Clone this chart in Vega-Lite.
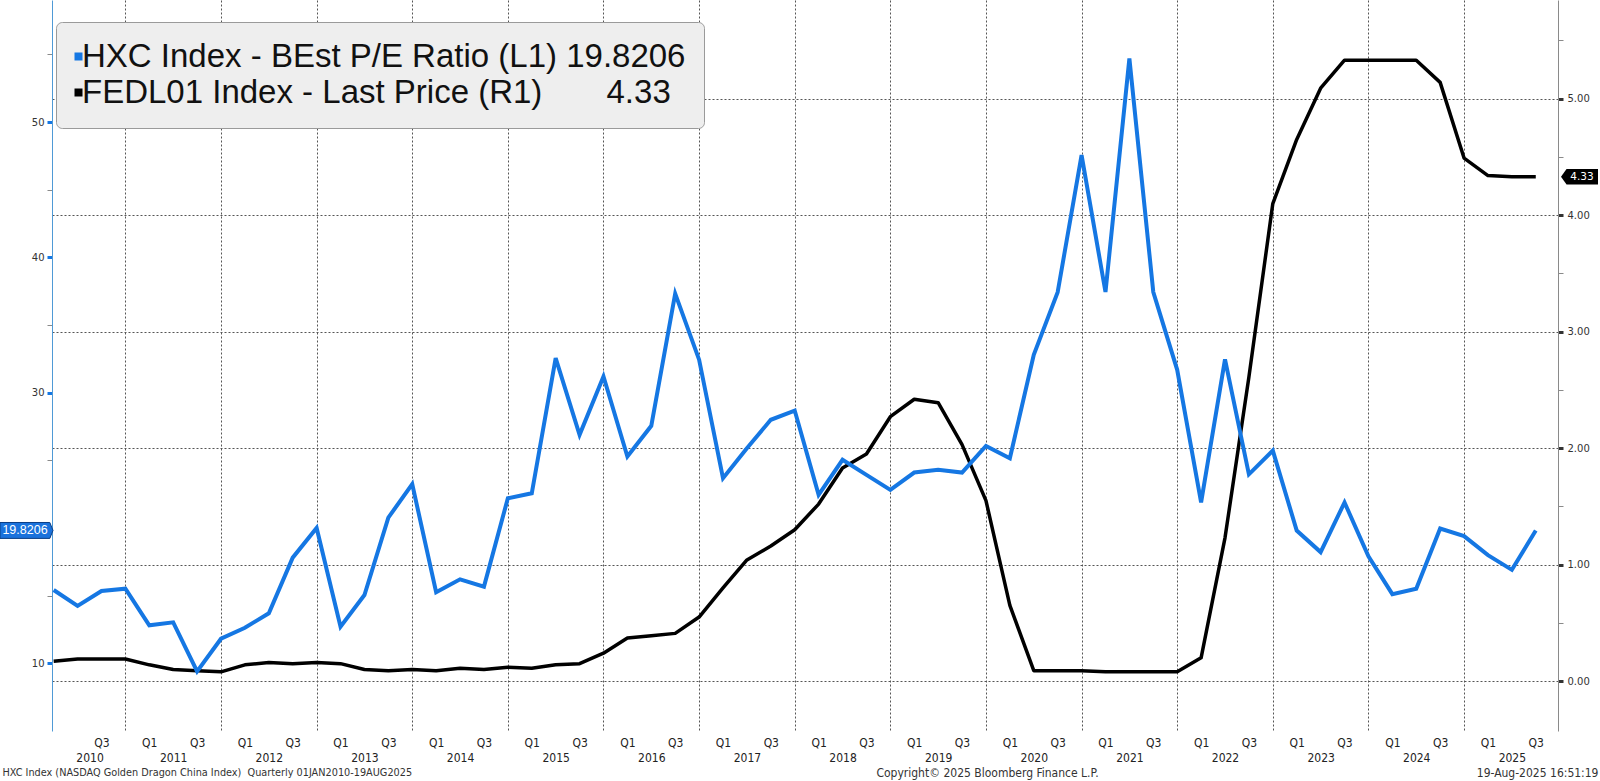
{
  "$schema": "https://vega.github.io/schema/vega-lite/v6.json",
  "width": 1506,
  "height": 731,
  "autosize": {"type": "none"},
  "padding": {"left": 52, "top": 0, "right": 42, "bottom": 50},
  "background": "white",
  "config": {
    "view": {"stroke": null},
    "font": "Liberation Sans",
    "axis": {"labelFont": "'Liberation Sans Narrow', 'DejaVu Sans Condensed', sans-serif", "titleFontWeight": "normal"}
  },
  "data": {
    "values": [
      {"i": 0, "quarter": "2010Q1", "pe": 15.42, "fed": 0.17},
      {"i": 1, "quarter": "2010Q2", "pe": 14.24, "fed": 0.19},
      {"i": 2, "quarter": "2010Q3", "pe": 15.35, "fed": 0.19},
      {"i": 3, "quarter": "2010Q4", "pe": 15.52, "fed": 0.19},
      {"i": 4, "quarter": "2011Q1", "pe": 12.81, "fed": 0.14},
      {"i": 5, "quarter": "2011Q2", "pe": 13.03, "fed": 0.10},
      {"i": 6, "quarter": "2011Q3", "pe": 9.41, "fed": 0.09},
      {"i": 7, "quarter": "2011Q4", "pe": 11.82, "fed": 0.08},
      {"i": 8, "quarter": "2012Q1", "pe": 12.63, "fed": 0.14},
      {"i": 9, "quarter": "2012Q2", "pe": 13.70, "fed": 0.16},
      {"i": 10, "quarter": "2012Q3", "pe": 17.81, "fed": 0.15},
      {"i": 11, "quarter": "2012Q4", "pe": 20.00, "fed": 0.16},
      {"i": 12, "quarter": "2013Q1", "pe": 12.71, "fed": 0.15},
      {"i": 13, "quarter": "2013Q2", "pe": 15.05, "fed": 0.10},
      {"i": 14, "quarter": "2013Q3", "pe": 20.77, "fed": 0.09},
      {"i": 15, "quarter": "2013Q4", "pe": 23.24, "fed": 0.10},
      {"i": 16, "quarter": "2014Q1", "pe": 15.25, "fed": 0.09},
      {"i": 17, "quarter": "2014Q2", "pe": 16.21, "fed": 0.11},
      {"i": 18, "quarter": "2014Q3", "pe": 15.67, "fed": 0.10},
      {"i": 19, "quarter": "2014Q4", "pe": 22.20, "fed": 0.12},
      {"i": 20, "quarter": "2015Q1", "pe": 22.57, "fed": 0.11},
      {"i": 21, "quarter": "2015Q2", "pe": 32.56, "fed": 0.14},
      {"i": 22, "quarter": "2015Q3", "pe": 26.89, "fed": 0.15},
      {"i": 23, "quarter": "2015Q4", "pe": 31.20, "fed": 0.24},
      {"i": 24, "quarter": "2016Q1", "pe": 25.28, "fed": 0.37},
      {"i": 25, "quarter": "2016Q2", "pe": 27.55, "fed": 0.39},
      {"i": 26, "quarter": "2016Q3", "pe": 37.32, "fed": 0.41},
      {"i": 27, "quarter": "2016Q4", "pe": 32.44, "fed": 0.55},
      {"i": 28, "quarter": "2017Q1", "pe": 23.68, "fed": 0.80},
      {"i": 29, "quarter": "2017Q2", "pe": 25.90, "fed": 1.04},
      {"i": 30, "quarter": "2017Q3", "pe": 28.00, "fed": 1.16},
      {"i": 31, "quarter": "2017Q4", "pe": 28.68, "fed": 1.30},
      {"i": 32, "quarter": "2018Q1", "pe": 22.45, "fed": 1.52},
      {"i": 33, "quarter": "2018Q2", "pe": 25.04, "fed": 1.83},
      {"i": 34, "quarter": "2018Q3", "pe": 23.93, "fed": 1.95},
      {"i": 35, "quarter": "2018Q4", "pe": 22.82, "fed": 2.27},
      {"i": 36, "quarter": "2019Q1", "pe": 24.10, "fed": 2.42},
      {"i": 37, "quarter": "2019Q2", "pe": 24.30, "fed": 2.39},
      {"i": 38, "quarter": "2019Q3", "pe": 24.10, "fed": 2.03},
      {"i": 39, "quarter": "2019Q4", "pe": 26.07, "fed": 1.55},
      {"i": 40, "quarter": "2020Q1", "pe": 25.16, "fed": 0.65},
      {"i": 41, "quarter": "2020Q2", "pe": 32.80, "fed": 0.09},
      {"i": 42, "quarter": "2020Q3", "pe": 37.43, "fed": 0.09},
      {"i": 43, "quarter": "2020Q4", "pe": 47.55, "fed": 0.09},
      {"i": 44, "quarter": "2021Q1", "pe": 37.44, "fed": 0.08},
      {"i": 45, "quarter": "2021Q2", "pe": 54.70, "fed": 0.08},
      {"i": 46, "quarter": "2021Q3", "pe": 37.44, "fed": 0.08},
      {"i": 47, "quarter": "2021Q4", "pe": 31.69, "fed": 0.08},
      {"i": 48, "quarter": "2022Q1", "pe": 21.89, "fed": 0.20},
      {"i": 49, "quarter": "2022Q2", "pe": 32.46, "fed": 1.23},
      {"i": 50, "quarter": "2022Q3", "pe": 23.97, "fed": 2.61},
      {"i": 51, "quarter": "2022Q4", "pe": 25.72, "fed": 4.10},
      {"i": 52, "quarter": "2023Q1", "pe": 19.81, "fed": 4.65},
      {"i": 53, "quarter": "2023Q2", "pe": 18.22, "fed": 5.09},
      {"i": 54, "quarter": "2023Q3", "pe": 21.89, "fed": 5.33},
      {"i": 55, "quarter": "2023Q4", "pe": 17.91, "fed": 5.33},
      {"i": 56, "quarter": "2024Q1", "pe": 15.11, "fed": 5.33},
      {"i": 57, "quarter": "2024Q2", "pe": 15.51, "fed": 5.33},
      {"i": 58, "quarter": "2024Q3", "pe": 19.96, "fed": 5.14},
      {"i": 59, "quarter": "2024Q4", "pe": 19.40, "fed": 4.49},
      {"i": 60, "quarter": "2025Q1", "pe": 18.00, "fed": 4.34},
      {"i": 61, "quarter": "2025Q2", "pe": 16.91, "fed": 4.33},
      {"i": 62, "quarter": "2025Q3", "pe": 19.8206, "fed": 4.33}
    ]
  },
  "layer": [
    {
      "mark": {"type": "line", "strokeWidth": 3.5, "strokeJoin": "round"},
      "encoding": {
        "x": {
          "field": "i", "type": "quantitative",
          "scale": {"domain": [-0.07, 62.93], "nice": false, "zero": false},
          "axis": {
            "orient": "bottom",
            "values": [3, 7, 11, 15, 19, 23, 27, 31, 35, 39, 43, 47, 51, 55, 59],
            "grid": true, "gridDash": [2, 2], "gridColor": "#555555", "gridWidth": 1,
            "labels": false, "ticks": false, "domain": false, "title": null
          }
        },
        "y": {
          "field": "fed", "type": "quantitative",
          "scale": {"domain": [-0.428, 5.847], "nice": false, "zero": false},
          "axis": {
            "orient": "right",
            "values": [0, 0.5, 1, 1.5, 2, 2.5, 3, 3.5, 4, 4.5, 5, 5.5],
            "format": ".2f",
            "labelExpr": "datum.value % 1 == 0 ? datum.label : ''",
            "labelFont": "DejaVu Sans", "labelFontSize": 10, "labelColor": "#333333", "labelPadding": 4,
            "grid": true, "gridDash": [2, 2], "gridColor": "#555555",
            "gridOpacity": {"condition": {"test": "datum.value % 1 == 0", "value": 1}, "value": 0},
            "domainColor": "#8a8a8a", "domainWidth": 1,
            "tickSize": 5,
            "tickColor": {"condition": {"test": "datum.value % 1 == 0", "value": "#333333"}, "value": "#8a8a8a"},
            "tickWidth": {"condition": {"test": "datum.value % 1 == 0", "value": 3}, "value": 1},
            "title": "19-Aug-2025 16:51:19",
            "titleAngle": 0, "titleX": 40, "titleY": 772, "titleAlign": "right", "titleBaseline": "middle",
            "titleFont": "'Liberation Sans Narrow', 'DejaVu Sans Condensed', sans-serif",
            "titleFontSize": 12, "titleColor": "#333333"
          }
        },
        "color": {
          "datum": "FEDL01 Index - Last Price (R1)",
          "scale": {
            "domain": ["HXC Index - BEst P/E Ratio (L1)", "FEDL01 Index - Last Price (R1)"],
            "range": ["#1577E3", "#000000"]
          },
          "legend": {
            "title": null,
            "orient": "none", "legendX": 4, "legendY": 22, "direction": "vertical",
            "fillColor": "#eeeeee", "strokeColor": "#9a9a9a", "cornerRadius": 6,
            "padding": 18, "rowPadding": 2,
            "labelFont": "Liberation Sans", "labelFontSize": 33, "labelColor": "#111111",
            "labelLimit": 1000, "labelOffset": -13,
            "symbolType": "square", "symbolSize": 64, "symbolOffset": -12,
            "labelExpr": "datum.value == 'FEDL01 Index - Last Price (R1)' ? datum.label + '\u00a0\u00a0\u00a0\u00a0\u00a0\u00a0 4.33' : datum.label + ' 19.8206'",
            "encode": {"symbols": {"update": {"fill": {"scale": "color", "field": "value"}, "strokeWidth": {"value": 0}, "opacity": {"value": 1}}}}
          }
        }
      }
    },
    {
      "transform": [{"filter": "datum.i == 62"}],
      "mark": {"type": "point", "filled": true, "opacity": 1, "shape": "M-1,0 L-0.7,-0.42 L1,-0.42 L1,0.42 L-0.7,0.42 Z", "size": 1369, "color": "#000000", "xOffset": 21.5},
      "encoding": {
        "x": {"datum": 62.93, "type": "quantitative", "axis": null},
        "y": {"field": "fed", "type": "quantitative", "scale": {"domain": [-0.428, 5.847], "nice": false, "zero": false}, "axis": null}
      }
    },
    {
      "transform": [{"filter": "datum.i == 62"}],
      "mark": {"type": "text", "color": "white", "font": "DejaVu Sans", "fontSize": 10.5, "xOffset": 24, "align": "center", "baseline": "middle"},
      "encoding": {
        "x": {"datum": 62.93, "type": "quantitative", "axis": null},
        "y": {"field": "fed", "type": "quantitative", "scale": {"domain": [-0.428, 5.847], "nice": false, "zero": false}, "axis": null},
        "text": {"field": "fed", "type": "quantitative", "format": ".2f"}
      }
    },
    {
      "mark": {"type": "line", "strokeWidth": 4, "strokeJoin": "miter"},
      "encoding": {
        "x": {
          "field": "i", "type": "quantitative",
          "scale": {"domain": [-0.07, 62.93], "nice": false, "zero": false},
          "axis": {
            "orient": "bottom",
            "values": [2, 4, 6, 8, 10, 12, 14, 16, 18, 20, 22, 24, 26, 28, 30, 32, 34, 36, 38, 40, 42, 44, 46, 48, 50, 52, 54, 56, 58, 60, 62],
            "labelExpr": "datum.value % 4 == 0 ? 'Q1' : 'Q3'",
            "grid": false, "ticks": false, "tickSize": 0, "domain": false,
            "labelFontSize": 12, "labelColor": "#222222", "labelPadding": 6,
            "labelFlush": false, "labelOverlap": false,
            "title": "Copyright\u00a9 2025 Bloomberg Finance L.P.",
            "titleX": 935, "titleY": 41, "titleAlign": "center", "titleBaseline": "middle",
            "titleFont": "'Liberation Sans Narrow', 'DejaVu Sans Condensed', sans-serif",
            "titleFontSize": 12, "titleColor": "#333333"
          }
        },
        "y": {
          "field": "pe", "type": "quantitative",
          "scale": {"domain": [5, 59.02], "nice": false, "zero": false},
          "axis": {
            "orient": "left",
            "values": [10, 15, 25, 30, 35, 40, 45, 50, 55],
            "format": "d",
            "labelExpr": "datum.value % 10 == 0 ? datum.label : ''",
            "labelFont": "DejaVu Sans", "labelFontSize": 10, "labelColor": "#333333", "labelPadding": 3,
            "grid": false,
            "domainColor": "#4f9ad6", "domainWidth": 1,
            "tickSize": 5,
            "tickColor": {"condition": {"test": "datum.value % 10 == 0", "value": "#1577E3"}, "value": "#8a8a8a"},
            "tickWidth": {"condition": {"test": "datum.value % 10 == 0", "value": 3}, "value": 1},
            "title": null
          }
        },
        "color": {
          "datum": "HXC Index - BEst P/E Ratio (L1)",
          "scale": {
            "domain": ["HXC Index - BEst P/E Ratio (L1)", "FEDL01 Index - Last Price (R1)"],
            "range": ["#1577E3", "#000000"]
          }
        }
      }
    },
    {
      "transform": [{"filter": "datum.i == 62"}],
      "mark": {"type": "point", "filled": true, "opacity": 1, "shape": "M-1,-0.3 L0.88,-0.3 L1,0 L0.88,0.3 L-1,0.3 Z", "size": 2809, "color": "#1A72DC", "stroke": "#0B3E85", "strokeWidth": 1, "xOffset": -25.5},
      "encoding": {
        "x": {
          "datum": -0.07, "type": "quantitative",
          "axis": {
            "orient": "bottom",
            "values": [1.5, 5, 9, 13, 17, 21, 25, 29, 33, 37, 41, 45, 49, 53, 57, 61],
            "labelExpr": "datum.value < 2 ? '2010' : '' + (2010 + (datum.value - 1) / 4)",
            "grid": false, "ticks": false, "tickSize": 0, "domain": false,
            "labelFontSize": 12, "labelColor": "#222222", "labelPadding": 21,
            "labelFlush": false, "labelOverlap": false,
            "title": "HXC Index (NASDAQ Golden Dragon China Index)\u00a0\u00a0Quarterly 01JAN2010-19AUG2025",
            "titleX": -50, "titleY": 41, "titleAlign": "left", "titleBaseline": "middle",
            "titleFont": "'Liberation Sans Narrow', 'DejaVu Sans Condensed', sans-serif",
            "titleFontSize": 10.8, "titleColor": "#333333"
          }
        },
        "y": {"field": "pe", "type": "quantitative", "scale": {"domain": [5, 59.02], "nice": false, "zero": false}, "axis": null}
      }
    },
    {
      "transform": [{"filter": "datum.i == 62"}],
      "mark": {"type": "text", "color": "white", "font": "Liberation Sans", "fontSize": 12.5, "xOffset": -27, "align": "center", "baseline": "middle"},
      "encoding": {
        "x": {"datum": -0.07, "type": "quantitative", "axis": null},
        "y": {"field": "pe", "type": "quantitative", "scale": {"domain": [5, 59.02], "nice": false, "zero": false}, "axis": null},
        "text": {"field": "pe", "type": "quantitative", "format": ".4f"}
      }
    }
  ],
  "resolve": {
    "scale": {"y": "independent"},
    "axis": {"x": "independent", "y": "independent"}
  }
}
